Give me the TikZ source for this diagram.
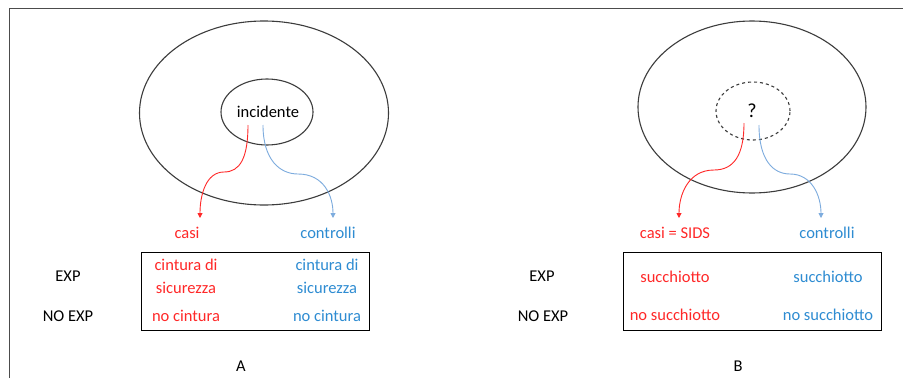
\documentclass[tikz,border=0pt]{standalone}
\usepackage{fontspec}
\setmainfont{Carlito}
\usetikzlibrary{arrows.meta,shapes.geometric}
\definecolor{tred}{RGB}{255,40,40}
\definecolor{tblue}{RGB}{46,140,210}
\definecolor{ablue}{RGB}{125,172,222}
\definecolor{lgray}{RGB}{60,60,60}
\begin{document}
\begin{tikzpicture}[x=1pt,y=-1pt,
  every node/.style={font=\fontsize{16.5}{19}\selectfont, inner sep=0pt},
  outerell/.style={ellipse, draw=lgray, line width=1.1pt},
  innerell/.style={ellipse, draw=lgray, line width=1.1pt},
  redarr/.style={draw=tred, line width=0.9pt, -{Triangle[width=5pt,length=5pt]}},
  bluearr/.style={draw=ablue, line width=0.9pt, -{Triangle[width=5pt,length=5pt]}},
  tablebox/.style={draw=black, line width=0.9pt},
  redtxt/.style={text=tred, align=center},
  bluetxt/.style={text=tblue, align=center}]
\useasboundingbox (0,0) rectangle (903,378);
\fill[white] (0,0) rectangle (903,378);
% frame
\coordinate (fTL) at (9,8);
\coordinate (fTR) at (903,8);
\coordinate (fBL) at (9,378);
\draw[line width=0.9pt, draw=black!70] (fBL) -- (fTL) -- (fTR);

% ---------- A ----------
\node[outerell, minimum width=249pt, minimum height=184pt] (outA) at (264,113) {};
\node[innerell, minimum width=92pt, minimum height=66pt] (inA) at (267,112) {};
\node (txtA) at (268,112) {incidente};
\coordinate (rsA) at (248,125);
\coordinate (bsA) at (263,125);
\node[text=tred] (casiA) at (187,233) {casi};
\node[text=tblue] (contrA) at (328,233) {controlli};
\coordinate (rtA) at (200,218);
\coordinate (btA) at (333,218);
\draw[redarr] (rsA) .. controls (248,158) and (240,172) .. (224,172)
  .. controls (206,172) and (200,195) .. (rtA);
\draw[bluearr] (bsA) .. controls (263,160) and (280,174) .. (298,174)
  .. controls (324,174) and (333,196) .. (btA);

\node[tablebox, minimum width=228pt, minimum height=78pt] (boxA) at (255,291) {};
\node[redtxt] (r1A) at (186,265) {cintura di};
\node[redtxt] (r2A) at (186,288) {sicurezza};
\node[redtxt] (r3A) at (186,316) {no cintura};
\node[bluetxt] (b1A) at (327,265) {cintura di};
\node[bluetxt] (b2A) at (327,288) {sicurezza};
\node[bluetxt] (b3A) at (327,316) {no cintura};
\node (expA) at (68,276) {EXP};
\node (noexpA) at (68,316) {NO EXP};
\node (labA) at (241,366) {A};

% ---------- B ----------
\node[outerell, minimum width=228pt, minimum height=172pt] (outB) at (752,107) {};
\node[innerell, dashed, minimum width=74pt, minimum height=58pt] (inB) at (753,111) {};
\node[font=\fontsize{20}{22}\selectfont] (txtB) at (752,111) {?};
\coordinate (rsB) at (744,123);
\coordinate (bsB) at (759,125);
\node[text=tred] (casiB) at (675,233) {casi = SIDS};
\node[text=tblue] (contrB) at (827,233) {controlli};
\coordinate (rtB) at (679,218);
\coordinate (btB) at (821,218);
\draw[redarr] (rsB) .. controls (744,155) and (734,170) .. (714,170)
  .. controls (688,170) and (679,195) .. (rtB);
\draw[bluearr] (bsB) .. controls (759,160) and (773,174) .. (790,174)
  .. controls (812,174) and (821,196) .. (btB);

\node[tablebox, minimum width=258pt, minimum height=78pt] (boxB) at (752,291) {};
\node[redtxt] (r1B) at (675,277) {succhiotto};
\node[redtxt] (r2B) at (675,315) {no succhiotto};
\node[bluetxt] (b1B) at (828,277) {succhiotto};
\node[bluetxt] (b2B) at (828,315) {no succhiotto};
\node (expB) at (542,276) {EXP};
\node (noexpB) at (543,316) {NO EXP};
\node (labB) at (738,366) {B};
\end{tikzpicture}
\end{document}
